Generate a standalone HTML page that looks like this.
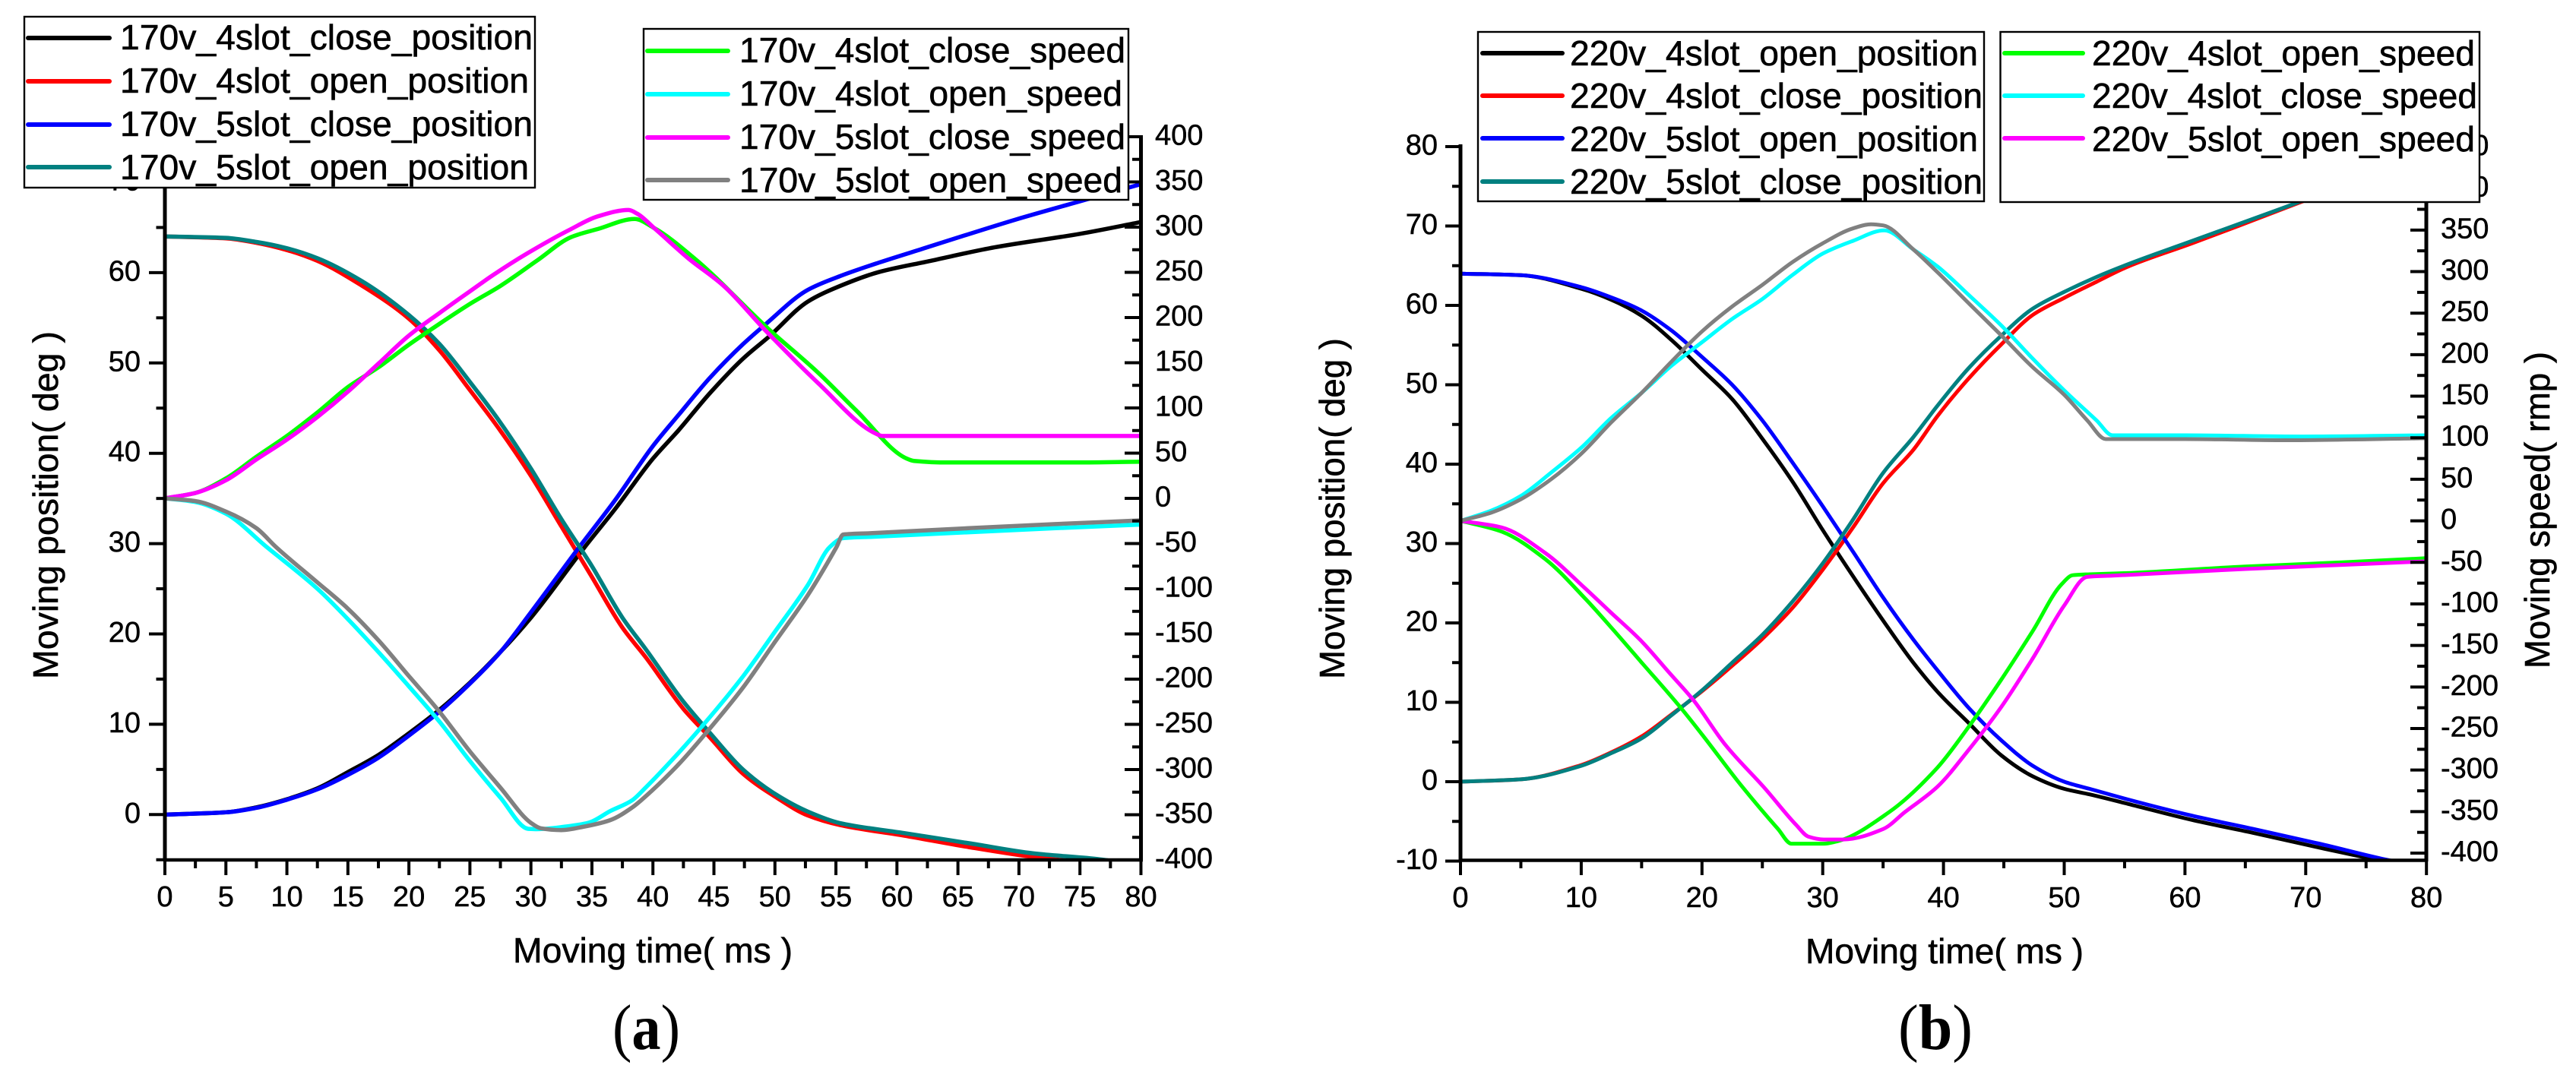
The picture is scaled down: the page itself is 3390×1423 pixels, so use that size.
<!DOCTYPE html>
<html lang="en">
<head>
<meta charset="utf-8">
<title>Moving position and speed at 170v and 220v</title>
<style>
html,body{margin:0;padding:0;background:#fff;}
svg{display:block;}
text{font-family:"Liberation Sans",sans-serif;fill:#000;}
.leg{font-size:46.3px;stroke:#000;stroke-width:.6;}
.title{font-size:46.3px;stroke:#000;stroke-width:.6;}
.tick{font-size:38px;stroke:#000;stroke-width:.5;}
.cap{font-family:"Liberation Serif",serif;font-size:85px;}
.box{fill:#fff;stroke:#000;stroke-width:2.4;}
.sample{stroke-width:6;stroke-linecap:round;fill:none;}
</style>
</head>
<body>
<svg id="figure" xmlns="http://www.w3.org/2000/svg" width="3390" height="1423" viewBox="0 0 3390 1423">
  <rect x="0" y="0" width="3390" height="1423" fill="#fff"/>
  <defs>
    <clipPath id="clip-a"><rect x="217" y="180" width="1285" height="952"/></clipPath>
    <clipPath id="clip-b"><rect x="1922" y="192" width="1271" height="941"/></clipPath>
  </defs>

  <g id="panel-a"></g>
  <g id="panel-b"></g>

  <!-- panel a titles -->
  <text class="title" x="675" y="1267" textLength="368" lengthAdjust="spacingAndGlyphs">Moving time( ms )</text>
  <text class="title" transform="translate(76,894) rotate(-90)" textLength="458" lengthAdjust="spacingAndGlyphs">Moving position( deg )</text>
  <text class="cap" x="806" y="1381" textLength="89" lengthAdjust="spacingAndGlyphs">(<tspan font-weight="bold">a</tspan>)</text>

  <!-- panel a legends -->
  <g>
    <rect class="box" x="32" y="22" width="672" height="225"/>
    <g><line class="sample" x1="37" y1="50" x2="144" y2="50" stroke="#000"/><text class="leg" x="158" y="65" textLength="543" lengthAdjust="spacingAndGlyphs">170v_4slot_close_position</text></g>
    <g><line class="sample" x1="37" y1="107" x2="144" y2="107" stroke="#f00"/><text class="leg" x="158" y="122" textLength="538" lengthAdjust="spacingAndGlyphs">170v_4slot_open_position</text></g>
    <g><line class="sample" x1="37" y1="164" x2="144" y2="164" stroke="#00f"/><text class="leg" x="158" y="179" textLength="543" lengthAdjust="spacingAndGlyphs">170v_5slot_close_position</text></g>
    <g><line class="sample" x1="37" y1="220" x2="144" y2="220" stroke="#008080"/><text class="leg" x="158" y="236" textLength="538" lengthAdjust="spacingAndGlyphs">170v_5slot_open_position</text></g>
  </g>
  <g>
    <rect class="box" x="847" y="38" width="638" height="225"/>
    <g><line class="sample" x1="852" y1="67" x2="958" y2="67" stroke="#0f0"/><text class="leg" x="973" y="82" textLength="508" lengthAdjust="spacingAndGlyphs">170v_4slot_close_speed</text></g>
    <g><line class="sample" x1="852" y1="124" x2="958" y2="124" stroke="#0ff"/><text class="leg" x="973" y="139" textLength="504" lengthAdjust="spacingAndGlyphs">170v_4slot_open_speed</text></g>
    <g><line class="sample" x1="852" y1="181" x2="958" y2="181" stroke="#f0f"/><text class="leg" x="973" y="196" textLength="508" lengthAdjust="spacingAndGlyphs">170v_5slot_close_speed</text></g>
    <g><line class="sample" x1="852" y1="237" x2="958" y2="237" stroke="#808080"/><text class="leg" x="973" y="253" textLength="504" lengthAdjust="spacingAndGlyphs">170v_5slot_open_speed</text></g>
  </g>

  <!-- panel b titles -->
  <text class="title" x="2376" y="1268" textLength="366" lengthAdjust="spacingAndGlyphs">Moving time( ms )</text>
  <text class="title" transform="translate(1769,894) rotate(-90)" textLength="449" lengthAdjust="spacingAndGlyphs">Moving position( deg )</text>
  <text class="title" transform="translate(3355,880) rotate(-90)" textLength="417" lengthAdjust="spacingAndGlyphs">Moving speed( rmp )</text>
  <text class="cap" x="2498" y="1381" textLength="98" lengthAdjust="spacingAndGlyphs">(<tspan font-weight="bold">b</tspan>)</text>

  <!-- panel b legends -->
  <g>
    <rect class="box" x="1945" y="42" width="666" height="223"/>
    <g><line class="sample" x1="1951" y1="70" x2="2056" y2="70" stroke="#000"/><text class="leg" x="2066" y="86" textLength="537" lengthAdjust="spacingAndGlyphs">220v_4slot_open_position</text></g>
    <g><line class="sample" x1="1951" y1="126" x2="2056" y2="126" stroke="#f00"/><text class="leg" x="2066" y="142" textLength="543" lengthAdjust="spacingAndGlyphs">220v_4slot_close_position</text></g>
    <g><line class="sample" x1="1951" y1="182" x2="2056" y2="182" stroke="#00f"/><text class="leg" x="2066" y="199" textLength="537" lengthAdjust="spacingAndGlyphs">220v_5slot_open_position</text></g>
    <g><line class="sample" x1="1951" y1="239" x2="2056" y2="239" stroke="#008080"/><text class="leg" x="2066" y="255" textLength="543" lengthAdjust="spacingAndGlyphs">220v_5slot_close_position</text></g>
  </g>
  <g>
    <rect class="box" x="2632.5" y="42" width="630.5" height="224"/>
    <g><line class="sample" x1="2638" y1="70" x2="2741" y2="70" stroke="#0f0"/><text class="leg" x="2753" y="86" textLength="504" lengthAdjust="spacingAndGlyphs">220v_4slot_open_speed</text></g>
    <g><line class="sample" x1="2638" y1="126" x2="2741" y2="126" stroke="#0ff"/><text class="leg" x="2753" y="142" textLength="507" lengthAdjust="spacingAndGlyphs">220v_4slot_close_speed</text></g>
    <g><line class="sample" x1="2638" y1="182" x2="2741" y2="182" stroke="#f0f"/><text class="leg" x="2753" y="199" textLength="504" lengthAdjust="spacingAndGlyphs">220v_5slot_open_speed</text></g>
  </g>
</svg>

<script>
/* ---------- tick values ---------- */
const xMajorTicksA = [0,5,10,15,20,25,30,35,40,45,50,55,60,65,70,75,80];
const xMinorTicksA = [2.5,7.5,12.5,17.5,22.5,27.5,32.5,37.5,42.5,47.5,52.5,57.5,62.5,67.5,72.5,77.5];
const leftMajorTicksA = [0,10,20,30,40,50,60,70];
const leftMinorTicksA = [-5,5,15,25,35,45,55,65,75];
const rightMajorTicksA = [-400,-350,-300,-250,-200,-150,-100,-50,0,50,100,150,200,250,300,350,400];
const rightMinorTicksA = [-375,-325,-275,-225,-175,-125,-75,-25,25,75,125,175,225,275,325,375];

const xMajorTicksB = [0,10,20,30,40,50,60,70,80];
const xMinorTicksB = [5,15,25,35,45,55,65,75];
const leftMajorTicksB = [-10,0,10,20,30,40,50,60,70,80];
const leftMinorTicksB = [-5,5,15,25,35,45,55,65,75];
const rightMajorTicksB = [-400,-350,-300,-250,-200,-150,-100,-50,0,50,100,150,200,250,300,350,400,450];
const rightMinorTicksB = [-375,-325,-275,-225,-175,-125,-75,-25,25,75,125,175,225,275,325,375,425];

/* ---------- panel a (170v) series: moving time (ms) and position (deg) / speed (rmp) ---------- */
const a4ClosePosTime = [0,5,7.5,10,12.5,15,17.5,20,22.5,25,27.5,30,34.4,37,40,42.07,44.7,47.4,49.5,52.7,55.3,58.5,62.75,68,75,80];
const a4ClosePos = [0,.25,.8,1.7,2.9,4.7,6.6,9,11.6,14.6,18,21.8,29.6,34,39.4,42.5,46.7,50.5,52.9,56.8,58.5,60.06,61.3,62.8,64.3,65.6];
const a4OpenPosTime = [0,5,7.5,10,12.5,16.1,20,22.5,25,27.5,30,32.5,35,37.5,39.42,42.5,44.7,47.4,50,52.7,55.3,60.6,65.9,71.2,73.9];
const a4OpenPos = [64,63.8,63.3,62.5,61.3,58.6,54.9,51.4,47,42.5,37.5,31.9,26.3,20.7,17.4,11.7,8.5,4.5,2,-.1,-1.15,-2.33,-3.6,-4.7,-5.1];
const a5ClosePosTime = [0,5,7.5,10,12.5,15,17.5,20,22.5,25,27.5,30,33.9,37,40,42.07,44.7,47.4,49.2,52.7,55.3,58.5,62,69.8,75,80];
const a5ClosePos = [0,.25,.75,1.65,2.8,4.4,6.3,8.75,11.4,14.5,18,22.4,29.5,35,40.8,44.2,48.4,52.1,54.25,58.1,59.6,61.1,62.6,65.9,67.9,69.8];
const a5OpenPosTime = [0,5,7.5,10,12.5,16.1,20,22.5,25,27.5,30,32.5,35,37.5,39.42,42.5,44.7,47.4,50,52.7,55.3,60.6,65.9,71.2,76.3,77.3];
const a5OpenPos = [64,63.85,63.4,62.7,61.6,59.1,55.3,52.1,47.9,43.4,38.3,32.7,27.5,21.8,18.3,12.5,9,4.96,2.3,.33,-.93,-2.05,-3.17,-4.3,-4.9,-5.07];
const a4CloseSpdTime = [0,2.5,5,7.5,10,12.5,15,17.5,20,22.5,25,27.5,30.5,33.3,35.5,38.5,40.1,43.4,49.5,53.5,56.65,60.8,61.4,64.3,74.7,80];
const a4CloseSpd = [0,6,22,46,69,95,123,145,170,193,215,235,263,289,298,309,299,265.5,187,139.5,97.4,44,41.4,39.7,39.7,40.5];
const a4OpenSpdTime = [0,2.5,5,8.34,12.5,15,17.5,20,22.5,25,27.5,29.8,30.5,32.9,34.7,36.5,38.3,39.4,42.07,44.7,47.4,50,52.7,54.5,55.6,58,65.9,73,80];
const a4OpenSpd = [0,-4,-17,-53.8,-100,-133.6,-170,-208,-247,-290.5,-331,-365.6,-366,-363,-359,-346,-334,-320,-282,-241.5,-196.6,-147.6,-95.8,-53.8,-44,-42.5,-37.5,-33,-29];
const a5CloseSpdTime = [0,2.5,5,7.5,10,12.5,15,17.5,20,22.5,25,26.9,29.7,33.3,35.5,38,38.7,40.1,42.9,45.8,49.2,53.5,58.2,58.8,80];
const a5CloseSpd = [0,6,20,43,65,90,118,149,180,205,229,247,271,298,312,319,315,299,265.5,235,186,128,72,69,69];
const a5OpenSpdTime = [0,2.5,5,7.5,9.1,12.5,15,17.5,20,22.5,25,27.5,30,30.8,32.5,34.4,36.5,38.3,39.4,42.07,44.7,47.4,50,52.7,55.05,55.6,58,65.9,73,80];
const a5OpenSpd = [0,-3,-14.6,-33,-53.8,-93,-122,-157,-196.6,-236,-280,-320,-359,-365,-367,-363,-356,-342,-329.7,-294.7,-254,-209,-158.8,-107,-53.8,-40,-38.5,-33,-28.5,-24.4];

/* ---------- panel b (220v) series ---------- */
const b4OpenPosTime = [0,5,10,12.5,15,17.5,20,22.5,25,27.5,30,32.5,35,37.5,39.52,42.15,44.8,47.4,50,52.1,55.3,60.55,65.8,71.1,76.3,78];
const b4OpenPos = [64,63.8,62.1,60.7,58.7,55.6,51.9,48.2,43.2,37.8,31.7,25.9,20.3,15,11.3,7.3,3.3,.67,-.9,-1.6,-2.8,-4.8,-6.5,-8.3,-10,-10.6];
const b4ClosePosTime = [0,5,10,12.5,15,17.5,20,22.5,25,27.5,30,32.5,35,37.5,39.52,42.15,44.8,47.4,50,52.7,55.3,60.55,65.8,68.7,80];
const b4ClosePos = [0,.3,2.1,3.7,5.7,8.5,11.4,14.6,18,21.9,26.7,32,37.6,41.8,46.1,50.9,55.1,58.8,60.95,63,64.9,67.8,70.8,72.5,79];
const b5OpenPosTime = [0,5,10,12.5,15,17.5,20,22.5,25,27.5,30,32.5,35,37.5,39.52,42.15,44.8,47.4,50,52.1,55.3,60.55,65.8,71.1,76.3,77.9];
const b5OpenPos = [64,63.8,62.3,61,59.35,56.8,53.5,50,45.5,40.2,34.7,29,23.2,17.9,14,9.2,5.2,2,0,-.9,-2.25,-4.27,-6,-7.8,-9.7,-10.2];
const b5ClosePosTime = [0,5,10,12.5,15,17.5,20,22.5,25,27.5,30,32.5,35,37.5,39.52,42.15,44.8,47.4,50,52.7,55.3,60.55,65.8,68.7,80];
const b5ClosePos = [0,.3,2,3.6,5.45,8.4,11.5,15,18.5,22.7,27.5,33,38.9,43.4,47.4,52.2,56.2,59.6,61.7,63.6,65.2,68.1,71,72.6,79];
const b4OpenSpdTime = [0,3.41,7.01,10.35,12.4,15,18.3,20.1,23.2,26.3,27.4,30.1,31.15,35.5,39.5,42.15,44.8,47.4,49.77,50.7,52.1,55,65,73,80];
const b4OpenSpd = [0,-13,-46,-94,-127,-170.5,-226,-259,-317.6,-371,-388.6,-388.6,-386,-350.6,-297,-246.6,-190.8,-132.4,-76.6,-65.5,-64.4,-63,-55,-50,-45];
const b4CloseSpdTime = [0,2.5,5,7.5,10,12.5,15,17.5,20,22.5,25,27.5,30,32.5,35.1,37.5,39.52,42.15,44.8,47.4,50,52.67,54,60,69.75,80];
const b4CloseSpd = [0,12,30,58,88,124,154,187,215,243,267,296,321.7,337,349.6,326.7,306,271,235,195,157,121,103,103,101.5,103];
const b5OpenSpdTime = [0,3.41,7.01,10.35,12.4,15,17.3,19.3,21.9,25.25,27.8,28.8,30.1,31.7,35,36.8,39.5,42.15,44.8,47.4,50,51.9,54,65,73,80];
const b5OpenSpd = [0,-8,-38.6,-81.7,-109.6,-145,-183,-216,-269,-322.7,-366,-380,-383.6,-383.6,-371,-350.6,-320,-274.5,-223.8,-165.4,-102,-67.5,-66,-58,-53,-48.7];
const b5CloseSpdTime = [0,2.5,5,7.5,10,12.5,15,17.5,20,22.5,25,27.5,30,32.5,34,35,37.5,39.52,42.15,44.8,47.4,50,51.9,53.45,60,68.4,80];
const b5CloseSpd = [0,9.6,26,50,80.7,118.7,154,192,228,258,284,311.5,334,352,357,355.6,326.7,299,261,223,184.7,151.7,121,98.4,98.4,97,99.4];

/* ---------- axis functions ---------- */
function xA(t){ return 217 + 16.056 * t; }
function posA(v){ return 1072.3 - 11.89 * v; }
function spdA(s){ return 656 - 1.19 * s; }
function xB(t){ return 1922 + 15.89 * t; }
function posB(v){ return 1029 - 10.45 * v; }
function spdB(s){ return 685.6 - 1.0936 * s; }

const SVG_NS = 'http://www.w3.org/2000/svg';

function drawLine(parent, x1, y1, x2, y2, width, name){
  const el = document.createElementNS(SVG_NS, 'line');
  el.setAttribute('x1', x1);
  el.setAttribute('y1', y1);
  el.setAttribute('x2', x2);
  el.setAttribute('y2', y2);
  el.setAttribute('stroke', '#000');
  el.setAttribute('stroke-width', width);
  
  
  parent.appendChild(el);
}

function drawLabel(parent, x, y, anchor, value, name){
  const el = document.createElementNS(SVG_NS, 'text');
  el.setAttribute('class', 'tick');
  el.setAttribute('x', x);
  el.setAttribute('y', y);
  el.setAttribute('text-anchor', anchor);
  el.textContent = String(value);
  
  
  parent.appendChild(el);
}

/* monotone cubic path through the mapped data points */
function smoothPath(px, py){
  const n = px.length;
  const h = [];
  const d = [];
  for (let i = 0; i < n - 1; i++){
    h.push(px[i + 1] - px[i]);
    d.push((py[i + 1] - py[i]) / h[i]);
  }
  const m = [d[0]];
  for (let i = 1; i < n - 1; i++){
    if (d[i - 1] * d[i] <= 0){
      m.push(0);
    } else {
      const w1 = 2 * h[i] + h[i - 1];
      const w2 = h[i] + 2 * h[i - 1];
      m.push((w1 + w2) / (w1 / d[i - 1] + w2 / d[i]));
    }
  }
  m.push(d[n - 2]);
  let out = 'M' + px[0].toFixed(1) + ' ' + py[0].toFixed(1);
  for (let i = 0; i < n - 1; i++){
    const c1x = px[i] + h[i] / 3;
    const c1y = py[i] + m[i] * h[i] / 3;
    const c2x = px[i + 1] - h[i] / 3;
    const c2y = py[i + 1] - m[i + 1] * h[i] / 3;
    out += 'C' + c1x.toFixed(1) + ' ' + c1y.toFixed(1) + ' ' + c2x.toFixed(1) + ' ' + c2y.toFixed(1) + ' ' + px[i + 1].toFixed(1) + ' ' + py[i + 1].toFixed(1);
  }
  return out;
}

function drawSeries(parent, times, values, xFn, yFn, color, width, clipId, name){
  const el = document.createElementNS(SVG_NS, 'path');
  el.setAttribute('d', smoothPath(times.map(xFn), values.map(yFn)));
  el.setAttribute('fill', 'none');
  el.setAttribute('stroke', color);
  el.setAttribute('stroke-width', width);
  el.setAttribute('stroke-linejoin', 'round');
  el.setAttribute('clip-path', 'url(#' + clipId + ')');
  
  
  parent.appendChild(el);
}

/* ---------- panel a ---------- */
const gA = document.getElementById('panel-a');
drawSeries(gA, a4ClosePosTime, a4ClosePos, xA, posA, '#000000', 5.5, 'clip-a', 'series-170v-4slot-close-position');
drawSeries(gA, a4OpenPosTime, a4OpenPos, xA, posA, '#ff0000', 5.5, 'clip-a', 'series-170v-4slot-open-position');
drawSeries(gA, a5ClosePosTime, a5ClosePos, xA, posA, '#0000ff', 5.5, 'clip-a', 'series-170v-5slot-close-position');
drawSeries(gA, a5OpenPosTime, a5OpenPos, xA, posA, '#008080', 5.5, 'clip-a', 'series-170v-5slot-open-position');
drawSeries(gA, a4CloseSpdTime, a4CloseSpd, xA, spdA, '#00ff00', 5.5, 'clip-a', 'series-170v-4slot-close-speed');
drawSeries(gA, a4OpenSpdTime, a4OpenSpd, xA, spdA, '#00ffff', 5.5, 'clip-a', 'series-170v-4slot-open-speed');
drawSeries(gA, a5CloseSpdTime, a5CloseSpd, xA, spdA, '#ff00ff', 5.5, 'clip-a', 'series-170v-5slot-close-speed');
drawSeries(gA, a5OpenSpdTime, a5OpenSpd, xA, spdA, '#808080', 5.5, 'clip-a', 'series-170v-5slot-open-speed');

drawLine(gA, 217, 178, 217, 1134, 5, 'y-axis-left-a');
drawLine(gA, 1501.5, 178, 1501.5, 1134, 5, 'y-axis-right-a');
drawLine(gA, 215, 1132, 1504, 1132, 4.4, 'x-axis-a');

xMajorTicksA.forEach(function(t){
  drawLine(gA, xA(t), 1132, xA(t), 1152, 4, 'x-major-tick-a');
  drawLabel(gA, xA(t), 1193, 'middle', t, 'x-tick-label-a');
});
xMinorTicksA.forEach(function(t){
  drawLine(gA, xA(t), 1132, xA(t), 1143, 4, 'x-minor-tick-a');
});
leftMajorTicksA.forEach(function(v){
  drawLine(gA, 196, posA(v), 217, posA(v), 4, 'left-major-tick-a');
  drawLabel(gA, 185, posA(v) + 10.5, 'end', v, 'left-tick-label-a');
});
leftMinorTicksA.forEach(function(v){
  drawLine(gA, 205.5, posA(v), 217, posA(v), 4, 'left-minor-tick-a');
});
rightMajorTicksA.forEach(function(s){
  drawLine(gA, 1480, spdA(s), 1501.5, spdA(s), 4, 'right-major-tick-a');
  drawLabel(gA, 1520, spdA(s) + 10.5, 'start', s, 'right-tick-label-a');
});
rightMinorTicksA.forEach(function(s){
  drawLine(gA, 1490, spdA(s), 1501.5, spdA(s), 4, 'right-minor-tick-a');
});

/* ---------- panel b ---------- */
const gB = document.getElementById('panel-b');
drawSeries(gB, b4OpenPosTime, b4OpenPos, xB, posB, '#000000', 5, 'clip-b', 'series-220v-4slot-open-position');
drawSeries(gB, b4ClosePosTime, b4ClosePos, xB, posB, '#ff0000', 5, 'clip-b', 'series-220v-4slot-close-position');
drawSeries(gB, b5OpenPosTime, b5OpenPos, xB, posB, '#0000ff', 5, 'clip-b', 'series-220v-5slot-open-position');
drawSeries(gB, b5ClosePosTime, b5ClosePos, xB, posB, '#008080', 5, 'clip-b', 'series-220v-5slot-close-position');
drawSeries(gB, b4OpenSpdTime, b4OpenSpd, xB, spdB, '#00ff00', 5, 'clip-b', 'series-220v-4slot-open-speed');
drawSeries(gB, b4CloseSpdTime, b4CloseSpd, xB, spdB, '#00ffff', 5, 'clip-b', 'series-220v-4slot-close-speed');
drawSeries(gB, b5OpenSpdTime, b5OpenSpd, xB, spdB, '#ff00ff', 5, 'clip-b', 'series-220v-5slot-open-speed');
drawSeries(gB, b5CloseSpdTime, b5CloseSpd, xB, spdB, '#808080', 5, 'clip-b', 'series-220v-5slot-close-speed');

drawLine(gB, 1922, 190, 1922, 1134, 5, 'y-axis-left-b');
drawLine(gB, 3193, 190, 3193, 1134, 5, 'y-axis-right-b');
drawLine(gB, 1920, 1132.5, 3195, 1132.5, 4.4, 'x-axis-b');

xMajorTicksB.forEach(function(t){
  drawLine(gB, xB(t), 1132, xB(t), 1152, 4, 'x-major-tick-b');
  drawLabel(gB, xB(t), 1194, 'middle', t, 'x-tick-label-b');
});
xMinorTicksB.forEach(function(t){
  drawLine(gB, xB(t), 1132, xB(t), 1143, 4, 'x-minor-tick-b');
});
leftMajorTicksB.forEach(function(v){
  drawLine(gB, 1902, posB(v), 1922, posB(v), 4, 'left-major-tick-b');
  drawLabel(gB, 1892, posB(v) + 10.5, 'end', v, 'left-tick-label-b');
});
leftMinorTicksB.forEach(function(v){
  drawLine(gB, 1911, posB(v), 1922, posB(v), 4, 'left-minor-tick-b');
});
rightMajorTicksB.forEach(function(s){
  drawLine(gB, 3172, spdB(s), 3193, spdB(s), 4, 'right-major-tick-b');
  drawLabel(gB, 3212, spdB(s) + 10.5, 'start', s, 'right-tick-label-b');
});
rightMinorTicksB.forEach(function(s){
  drawLine(gB, 3181, spdB(s), 3193, spdB(s), 4, 'right-minor-tick-b');
});
</script>
</body>
</html>
